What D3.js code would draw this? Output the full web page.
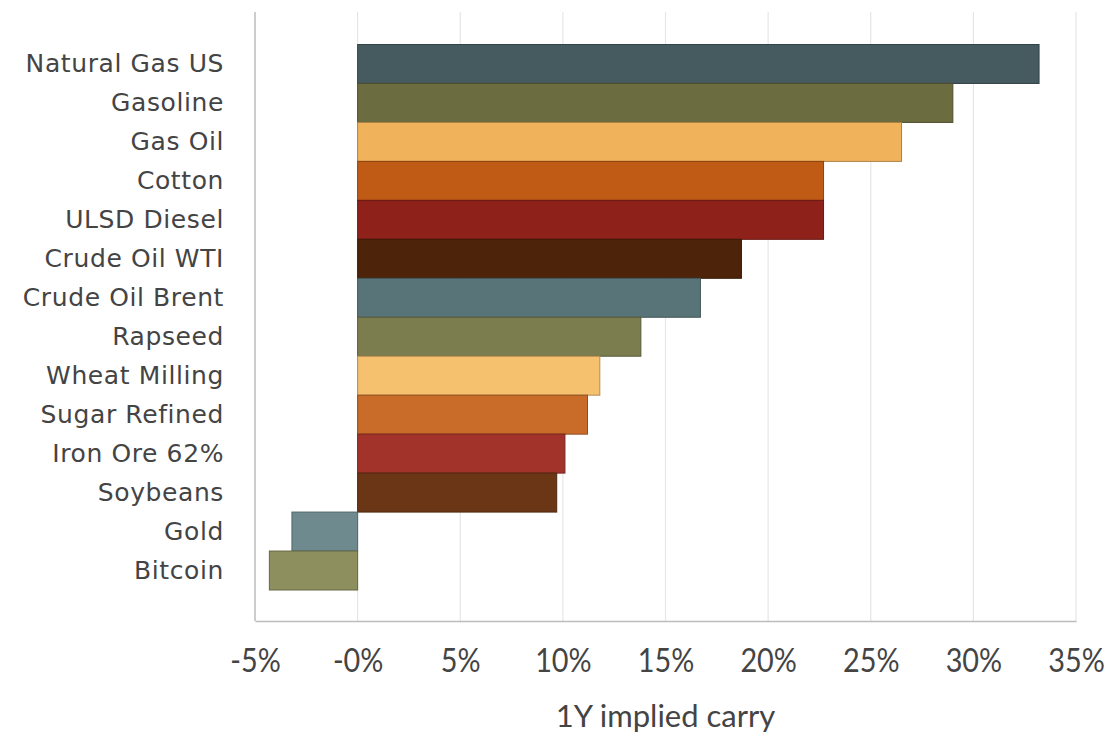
<!DOCTYPE html>
<html>
<head>
<meta charset="utf-8">
<script src="https://cdn.jsdelivr.net/npm/d3@7"></script>
<style>
  html, body { margin: 0; padding: 0; background: #ffffff; }
  svg { display: block; }
  text { font-family: Lato, "Open Sans", "DejaVu Sans", sans-serif; fill: #444444; }
</style>
</head>
<body>
<svg id="chart" width="1110" height="737"></svg>
<script>
// Commodity names, top to bottom
const categories = [
  "Natural Gas US", "Gasoline", "Gas Oil", "Cotton", "ULSD Diesel",
  "Crude Oil WTI", "Crude Oil Brent", "Rapseed", "Wheat Milling",
  "Sugar Refined", "Iron Ore 62%", "Soybeans", "Gold", "Bitcoin"
];

// One-year implied carry, in percent
const carry = [33.2, 29.0, 26.5, 22.7, 22.7, 18.7, 16.7, 13.8, 11.8, 11.2, 10.1, 9.7, -3.2, -4.3];

// Bar fills, in category order
const fills = [
  "#465b60", "#6b6c3f", "#f1b25c", "#c05b15", "#8e221b",
  "#4d2409", "#587478", "#7b7d4f", "#f5c16f", "#c96b29",
  "#a2332b", "#6b3616", "#6e8a8e", "#8d8f5f"
];

// Axis ticks
const tickValues = [-5, 0, 5, 10, 15, 20, 25, 30, 35];
const tickLabels = ["-5%", "-0%", "5%", "10%", "15%", "20%", "25%", "30%", "35%"];
const axisTitle = "1Y implied carry";

const svg = d3.select("#chart");

const plot = { left: 255, right: 1076, top: 12, bottom: 621 };

const x = d3.scaleLinear().domain([-5, 35]).range([plot.left, plot.right]);
const y = d3.scaleBand().domain(categories).range([44.5, 590]).padding(0);

// Vertical gridlines
svg.append("g")
  .selectAll("line")
  .data(tickValues.slice(1))
  .join("line")
  .attr("x1", d => x(d)).attr("x2", d => x(d))
  .attr("y1", plot.top).attr("y2", plot.bottom)
  .attr("stroke", "#e6e6e6")
  .attr("stroke-width", 1.2);

// Bars
svg.append("g")
  .selectAll("rect")
  .data(categories)
  .join("rect")
  .attr("x", (d, i) => Math.min(x(0), x(carry[i])))
  .attr("y", d => y(d))
  .attr("width", (d, i) => Math.abs(x(carry[i]) - x(0)))
  .attr("height", y.bandwidth())
  .attr("fill", (d, i) => fills[i])
  .attr("stroke", (d, i) => d3.color(fills[i]).darker(0.9))
  .attr("stroke-width", 1);

// Left axis line
svg.append("line")
  .attr("x1", plot.left).attr("x2", plot.left)
  .attr("y1", plot.top).attr("y2", plot.bottom)
  .attr("stroke", "#bdbdbd").attr("stroke-width", 1.5);

// Bottom axis
const xAxis = d3.axisBottom(x)
  .tickValues(tickValues)
  .tickSize(0)
  .tickPadding(28)
  .tickFormat((d, i) => tickLabels[i]);

const gx = svg.append("g")
  .attr("transform", `translate(0,${plot.bottom})`)
  .call(xAxis);
gx.select(".domain").attr("stroke", "#bdbdbd").attr("stroke-width", 1.5);
gx.selectAll("text")
  .attr("font-size", 32)
  .attr("fill", "#444444")
  .attr("transform", "scale(0.9,1)")
  .style("font-family", "Lato, 'Open Sans', sans-serif");

// Category labels
const yAxis = d3.axisLeft(y).tickSize(0).tickPadding(31);
const gy = svg.append("g")
  .attr("transform", `translate(${plot.left},0)`)
  .call(yAxis);
gy.select(".domain").remove();
gy.selectAll("text")
  .attr("font-size", 25)
  .attr("fill", "#474747")
  .style("letter-spacing", "0.6px")
  .style("font-family", "'DejaVu Sans', 'Open Sans', sans-serif");

// Axis title
svg.append("text")
  .attr("x", (plot.left + plot.right) / 2)
  .attr("y", 727)
  .attr("text-anchor", "middle")
  .attr("font-size", 31)
  .text(axisTitle);
</script>
</body>
</html>
